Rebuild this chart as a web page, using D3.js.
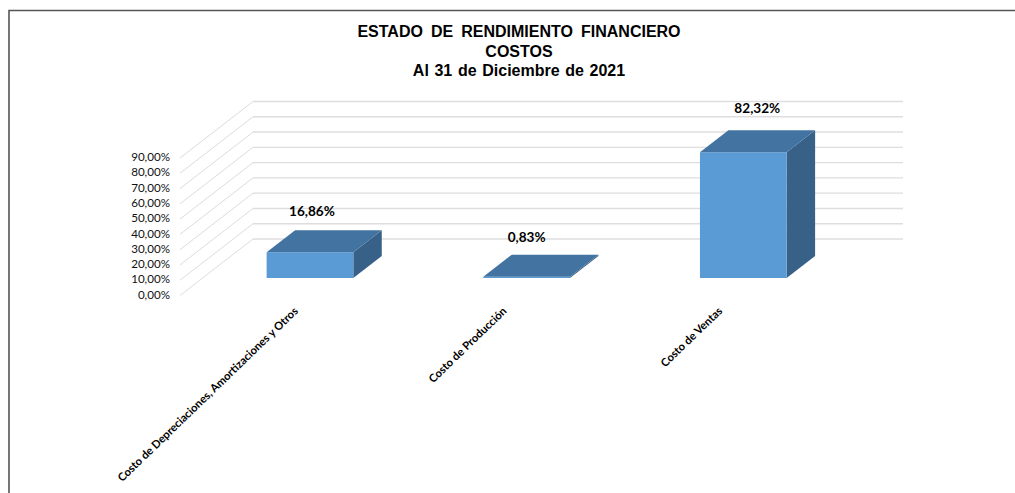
<!DOCTYPE html>
<html>
<head>
<meta charset="utf-8">
<script src="https://cdnjs.cloudflare.com/ajax/libs/d3/7.8.5/d3.min.js"></script>
<style>
html,body{margin:0;padding:0;background:#fff;overflow:hidden}
svg{display:block}
</style>
</head>
<body>
<script>
const titleLines = ["ESTADO DE RENDIMIENTO FINANCIERO", "COSTOS", "Al 31 de Diciembre de 2021"];
const categories = ["Costo de Depreciaciones, Amortizaciones y Otros", "Costo de Producción", "Costo de Ventas"];
const values = [16.86, 0.83, 82.32];
const valueLabels = ["16,86%", "0,83%", "82,32%"];
const tickValues = [0, 10, 20, 30, 40, 50, 60, 70, 80, 90];

const W = 1015, H = 493;
const svg = d3.select("body").append("svg").attr("width", W).attr("height", H);

// frame (runs off the right and bottom of the picture)
svg.append("path").attr("d", `M9,${H}V10.5H${W}`).attr("fill", "none")
  .attr("stroke", "#555").attr("stroke-width", 1.6);

// title
const titleWordSpacing = [3.6, 0, 1.2];
svg.append("g").selectAll("text").data(titleLines).join("text")
  .attr("x", 519).attr("y", (d, i) => 37 + i * 19.5)
  .attr("text-anchor", "middle")
  .attr("font-family", "Liberation Sans").attr("font-weight", "bold")
  .attr("font-size", 16).attr("word-spacing", (d, i) => titleWordSpacing[i]).attr("fill", "#000").text(d => d);

// 3D projection
const frontX = 180, depthX = 73, depthY = 56.5;
const x = d3.scaleBand().domain(categories).range([0, 650]).paddingInner(0.6).paddingOuter(0.3);
const y = d3.scaleLinear().domain([0, 90]).range([295.5, 158]);
const px = (xv, z) => frontX + xv + depthX * z;
const py = (v, z) => y(v) - depthY * z;

// gridlines: side wall + back wall
const side = svg.append("g").attr("fill", "none").attr("stroke", "#dcdcdc").attr("stroke-width", 1);
side.selectAll("line").data(tickValues).join("line")
  .attr("x1", px(0, 0)).attr("x2", px(0, 1))
  .attr("y1", t => py(t, 0)).attr("y2", t => py(t, 1));
const back = svg.append("g").attr("stroke", "#dedede").attr("stroke-width", 1.4);
back.selectAll("line").data(tickValues).join("line")
  .attr("x1", px(0, 1)).attr("x2", px(650, 1))
  .attr("y1", t => py(t, 1)).attr("y2", t => py(t, 1));

// value axis
const axis = d3.axisLeft(y).tickValues(tickValues).tickSize(0).tickPadding(0)
  .tickFormat(t => d3.format(".2f")(t).replace(".", ",") + "%");
const axG = svg.append("g").attr("transform", "translate(170,-1)").call(axis);
axG.select(".domain").remove();
axG.selectAll("text").attr("font-family", "Lato").attr("font-size", 11.6).attr("fill", "#111");

// bars
const zFront = 0.31, zBack = 0.70, barShift = -1;
const bars = svg.append("g").selectAll("g").data(categories).join("g");
const poly = pts => pts.map(p => p.join(",")).join(" ");
// right side
bars.append("polygon").attr("fill", "#376187").attr("points", (c, i) => {
  const xr = x(c) + x.bandwidth() + barShift;
  return poly([[px(xr, zFront), py(0, zFront)], [px(xr, zBack), py(0, zBack)],
               [px(xr, zBack), py(values[i], zBack)], [px(xr, zFront), py(values[i], zFront)]]);
});
// front
bars.append("polygon").attr("fill", "#5b9bd5").attr("points", (c, i) => {
  const xl = x(c) + barShift, xr = xl + x.bandwidth();
  return poly([[px(xl, zFront), py(0, zFront)], [px(xr, zFront), py(0, zFront)],
               [px(xr, zFront), py(values[i], zFront)], [px(xl, zFront), py(values[i], zFront)]]);
});
// top
bars.append("polygon").attr("fill", "#4273a1").attr("points", (c, i) => {
  const xl = x(c) + barShift, xr = xl + x.bandwidth();
  return poly([[px(xl, zFront), py(values[i], zFront)], [px(xr, zFront), py(values[i], zFront)],
               [px(xr, zBack), py(values[i], zBack)], [px(xl, zBack), py(values[i], zBack)]]);
});

// value labels (hand-placed in the source chart, hence the per-bar nudges)
const labelNudgeX = [1, -1, 13], labelLift = [14, 13, 17];
svg.append("g").selectAll("text").data(categories).join("text")
  .attr("x", (c, i) => px(x(c) + x.bandwidth() / 2, zFront) + labelNudgeX[i])
  .attr("y", (c, i) => py(values[i], zBack) - labelLift[i])
  .attr("text-anchor", "middle")
  .attr("font-family", "Lato").attr("font-weight", "bold").attr("font-size", 13.6).attr("fill", "#000")
  .text((c, i) => valueLabels[i]);

// category labels
const catNudgeX = [-15, -23, -24];
svg.append("g").selectAll("text").data(categories).join("text")
  .attr("transform", (c, i) => `translate(${px(x(c) + x.bandwidth() / 2, zFront) + catNudgeX[i]},309) rotate(-44)`)
  .attr("text-anchor", "end").attr("dy", "0.35em")
  .attr("font-family", "Lato").attr("font-weight", "bold").attr("font-size", 11.2).attr("fill", "#000")
  .text(c => c);
</script>
</body>
</html>
